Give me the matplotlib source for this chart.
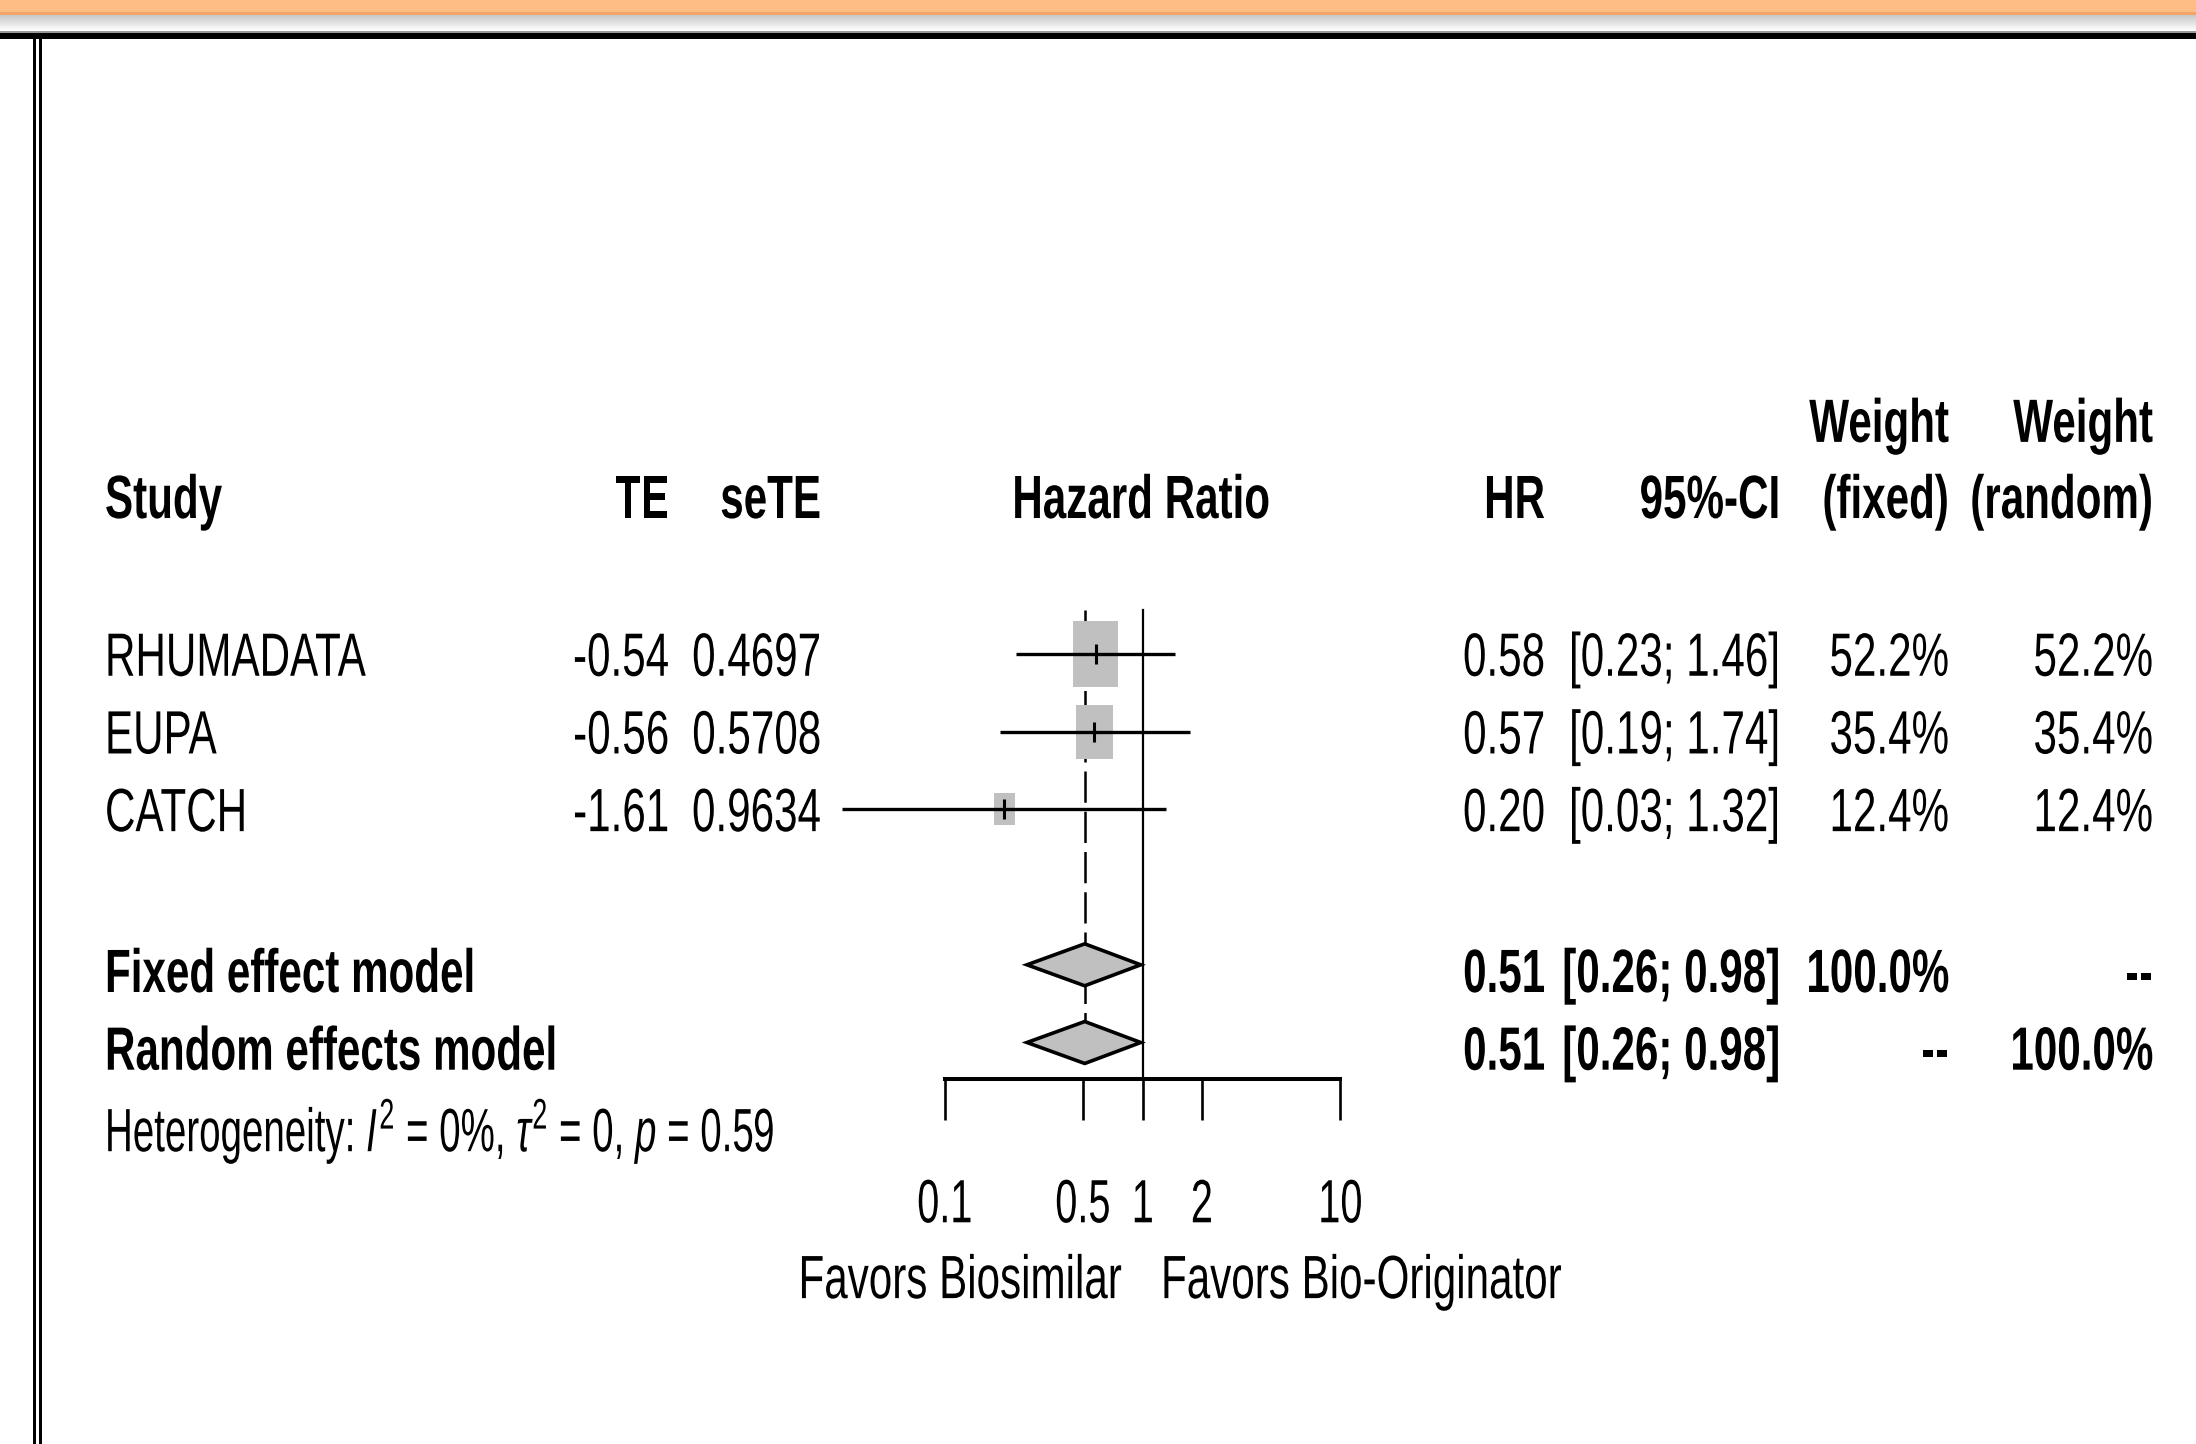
import matplotlib
matplotlib.use("Agg")
import numpy as np
import matplotlib.pyplot as plt
import matplotlib.text as mtext
import matplotlib.transforms as mtrans
from matplotlib.patches import Rectangle, Polygon
from matplotlib.path import Path
from matplotlib.ticker import NullLocator
from matplotlib.patheffects import AbstractPathEffect

# ---------------- data ----------------
studies = ["RHUMADATA", "EUPA", "CATCH"]
te = [-0.54, -0.56, -1.61]
se_te = [0.4697, 0.5708, 0.9634]
hr = [0.58, 0.57, 0.20]
ci_lo = [0.23, 0.19, 0.03]
ci_hi = [1.46, 1.74, 1.32]
w_fixed = [52.2, 35.4, 12.4]
w_random = [52.2, 35.4, 12.4]

models = ["Fixed effect model", "Random effects model"]
model_hr = [0.51, 0.51]
model_lo = [0.26, 0.26]
model_hi = [0.98, 0.98]
model_w_fixed = ["100.0%", "--"]
model_w_random = ["--", "100.0%"]

heterogeneity = r"Heterogeneity: $I^2$ = 0%, $\tau^2$ = 0, $p$ = 0.59"
x_ticks = [0.1, 0.5, 1, 2, 10]
x_tick_labels = ["0.1", "0.5", "1", "2", "10"]
label_left = "Favors Biosimilar"
label_right = "Favors Bio-Originator"

# ---------------- layout ----------------
W, H = 2196, 1444
DPI = 100
X01 = 945.0      # pixel of 0.1 on the HR axis
PXDEC = 197.5    # pixels per decade
ROW0 = 654.0     # pixel of first study row
ROWH = 77.7      # pixels per row
FS = 44          # visual (cap-height) size of the text
SX = 0.69        # width/height ratio of the tall, narrow screen font

plt.rcParams["font.family"] = ["Liberation Sans", "DejaVu Sans"]
plt.rcParams["mathtext.fontset"] = "custom"
plt.rcParams["mathtext.rm"] = "Liberation Sans"
plt.rcParams["mathtext.it"] = "Liberation Sans:italic"


class Stretch(AbstractPathEffect):
    """Scale glyphs around the text anchor (or the glyphs' centre)."""
    def __init__(self, sx, sy=1.0, text=None):
        super().__init__()
        self.sx, self.sy, self.text = sx, sy, text

    def draw_path(self, renderer, gc, tpath, affine, rgbFace=None):
        if self.text is not None:
            x0, y0 = self.text.get_transform().transform(
                self.text.get_unitless_position())
        else:
            bb = tpath.get_extents(affine)
            x0, y0 = 0.5 * (bb.x0 + bb.x1), bb.y1
        aff = affine + mtrans.Affine2D().translate(-x0, -y0).scale(
            self.sx, self.sy).translate(x0, y0)
        renderer.draw_path(gc, tpath, aff, rgbFace)


class TallText(mtext.Text):
    """Text set at fontsize FS*c and stretched vertically by 1/c."""
    def __init__(self, x, y, s, c=SX, **kw):
        kw["fontsize"] = FS * c
        super().__init__(x, y, s, **kw)
        self._sy = 1.0 / c
        self.set_path_effects([Stretch(1.0, self._sy, self)])

    def get_window_extent(self, renderer=None, dpi=None):
        bb = super().get_window_extent(renderer=renderer, dpi=dpi)
        y0 = self.get_transform().transform(self.get_unitless_position())[1]
        return mtrans.Bbox([[bb.x0, y0 + (bb.y0 - y0) * self._sy],
                            [bb.x1, y0 + (bb.y1 - y0) * self._sy]])


fig = plt.figure(figsize=(W / DPI, H / DPI), dpi=DPI)
fig.patch.set_facecolor("white")

axt = fig.add_axes([0, 0, 1, 1], zorder=1)
axt.set_xlim(0, W)
axt.set_ylim(H, 0)
axt.axis("off")

ax = fig.add_axes([0, 0, 1, 1], zorder=2)
ax.patch.set_alpha(0)
ax.set_xscale("log")
ax.set_xlim(10 ** (-1 - X01 / PXDEC), 10 ** (-1 + (W - X01) / PXDEC))
ax.set_ylim((H - ROW0) / ROWH, -ROW0 / ROWH)

tr = mtrans.blended_transform_factory(axt.transData, ax.transData)

# ---------------- frame decorations ----------------
axt.add_patch(Rectangle((0, 0), W, 12, color="#FFBD86", lw=0))
axt.add_patch(Rectangle((0, 12), W, 3, color="#F4A467", lw=0))
grad = np.linspace(0.78, 1.0, 40)[:, None] * np.ones((1, 4))
axt.imshow(grad, cmap="gray", vmin=0, vmax=1, extent=[0, W, 31, 15],
           aspect="auto", interpolation="bilinear")
axt.add_patch(Rectangle((0, 31), W, 1.5, color="#999999", lw=0))
axt.add_patch(Rectangle((0, 32.5), W, 6, color="black", lw=0))
axt.add_patch(Rectangle((33, 38), 3.2, H - 38, color="black", lw=0))
axt.add_patch(Rectangle((39, 38), 2.6, H - 38, color="black", lw=0))
axt.set_xlim(0, W)
axt.set_ylim(H, 0)

# ---------------- forest marks ----------------
rows = np.arange(len(studies))
model_rows = [4, 5]
axis_row = (1079 - ROW0) / ROWH
top_row = (610 - ROW0) / ROWH
dh = 0.27

ax.plot([1, 1], [top_row, axis_row], color="black", lw=1.6, zorder=3)
ax.plot([model_hr[0]] * 2, [top_row, model_rows[1] - dh], color="black",
        lw=1.8, dashes=(12.5, 3.6), zorder=2)

rect_marker = Path([(-0.34, -0.5), (0.34, -0.5), (0.34, 0.5), (-0.34, 0.5), (-0.34, -0.5)],
                   [Path.MOVETO, Path.LINETO, Path.LINETO, Path.LINETO, Path.CLOSEPOLY])
for r, est, w in zip(rows, hr, w_fixed):
    h_pt = 9.1 * np.sqrt(w) * 72 / DPI
    ax.scatter([est], [r], s=h_pt ** 2, marker=rect_marker, color="#C0C0C0",
               edgecolors="none", zorder=3)
ax.hlines(rows, ci_lo, ci_hi, color="black", lw=2.4, zorder=4)
ax.plot(hr, rows, ls="none", marker="|", markersize=14.5, mew=2.2,
        color="black", zorder=5)

for r, est, lo, hi in zip(model_rows, model_hr, model_lo, model_hi):
    ax.add_patch(Polygon([(lo, r), (est, r - dh), (hi, r), (est, r + dh)],
                         closed=True, facecolor="#C0C0C0", edgecolor="black",
                         lw=2.6, joinstyle="miter", zorder=4))

for s in ["top", "right", "left"]:
    ax.spines[s].set_visible(False)
ax.spines["bottom"].set_position(("data", axis_row))
ax.spines["bottom"].set_bounds(0.1, 10)
ax.spines["bottom"].set_linewidth(2.9)
ax.set_xticks(x_ticks)
ax.set_xticklabels(x_tick_labels)
ax.xaxis.set_minor_locator(NullLocator())
ax.tick_params(axis="x", direction="out", length=29.5, width=1.9,
               pad=42, labelsize=FS)
ax.set_yticks([])
for lab in ax.get_xticklabels():
    lab.set_path_effects([Stretch(0.65)])

# ---------------- text ----------------
BASE = 0.28
X_STUDY, X_TE, X_SETE, X_HZ = 105, 669, 821, 1141
X_HR, X_CI, X_WF, X_WR = 1545, 1780, 1949, 2153


def txt(x, y, s, ha="left", bold=False, c=SX):
    t = TallText(x, y, s, c=c, transform=tr, ha=ha, va="baseline",
                 fontweight="bold" if bold else "normal",
                 color="black", zorder=6)
    t.set_clip_on(False)
    axt.add_artist(t)
    return t


hdr = -1.75
txt(X_STUDY, hdr, "Study", bold=True)
txt(X_TE, hdr, "TE", ha="right", bold=True)
txt(X_SETE, hdr, "seTE", ha="right", bold=True)
txt(X_HZ, hdr, "Hazard Ratio", ha="center", bold=True)
txt(X_HR, hdr, "HR", ha="right", bold=True)
txt(X_CI, hdr, "95%-CI", ha="right", bold=True)
txt(X_WF, hdr - 0.98, "Weight", ha="right", bold=True)
txt(X_WF, hdr, "(fixed)", ha="right", bold=True)
txt(X_WR, hdr - 0.98, "Weight", ha="right", bold=True)
txt(X_WR, hdr, "(random)", ha="right", bold=True)

for r, name, t, s, e, lo, hi, wf, wr in zip(rows, studies, te, se_te, hr, ci_lo,
                                            ci_hi, w_fixed, w_random):
    y = r + BASE
    txt(X_STUDY, y, name)
    txt(X_TE, y, f"{t:.2f}", ha="right")
    txt(X_SETE, y, f"{s:.4f}", ha="right")
    txt(X_HR, y, f"{e:.2f}", ha="right")
    txt(X_CI, y, f"[{lo:.2f}; {hi:.2f}]", ha="right")
    txt(X_WF, y, f"{wf:.1f}%", ha="right")
    txt(X_WR, y, f"{wr:.1f}%", ha="right")

for r, name, e, lo, hi, wf, wr in zip(model_rows, models, model_hr, model_lo,
                                      model_hi, model_w_fixed, model_w_random):
    y = r + 0.35
    txt(X_STUDY, y, name, bold=True)
    txt(X_HR, y, f"{e:.2f}", ha="right", bold=True)
    txt(X_CI, y, f"[{lo:.2f}; {hi:.2f}]", ha="right", bold=True)
    txt(X_WF, y, wf, ha="right", bold=True)
    txt(X_WR, y, wr, ha="right", bold=True)

txt(X_STUDY, 6.4, heterogeneity, c=0.63)
txt(1122, 8.29, label_left, ha="right")
txt(1161, 8.29, label_right, ha="left")

fig.savefig("out.png", dpi=DPI, facecolor="white")
